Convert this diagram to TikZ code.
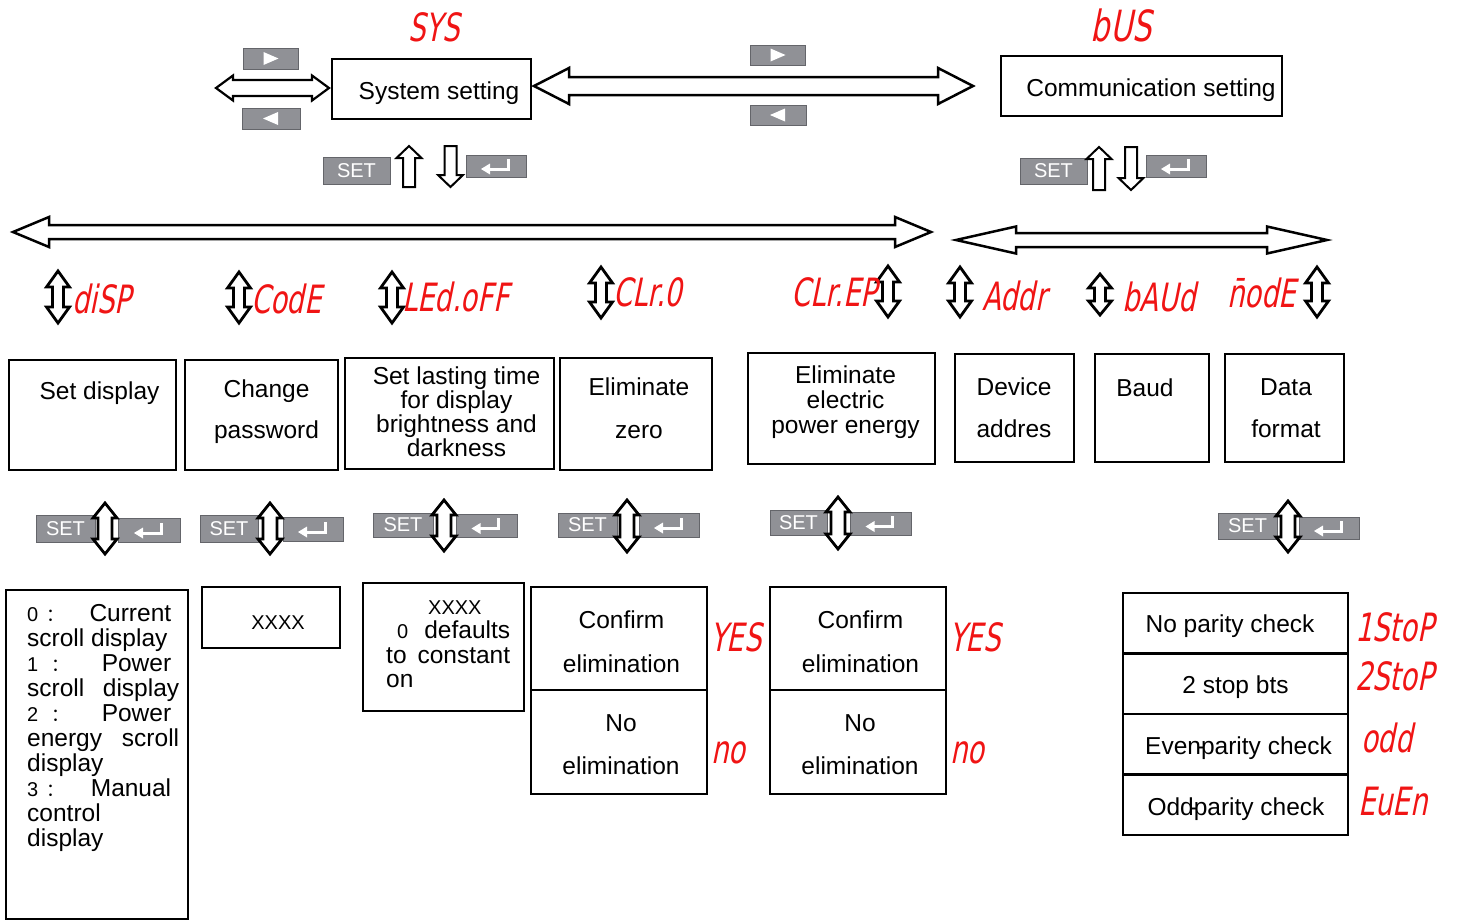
\documentclass[tikz,border=0pt]{standalone}
\usepackage{fontspec}
\setmainfont{Liberation Sans}
\newfontfamily\segfont[FakeSlant=0.2,FakeStretch=0.7]{DejaVu Sans}
\newfontfamily\cjkfont{Noto Sans CJK SC}
\usetikzlibrary{fit}
\definecolor{segred}{RGB}{240,20,20}
\definecolor{btngray}{RGB}{144,145,150}
\definecolor{btnedge}{RGB}{100,101,106}
\tikzset{
  blk/.style={draw=black, fill=white, line width=2.5pt, line join=miter},
  box/.style={draw=black, line width=2.5pt, inner sep=0pt},
  btn/.style={fill=btngray, draw=btnedge, line width=0.8pt, inner sep=0pt, text=white, font=\fontsize{20}{20}\selectfont},
  txt/.style={font=\fontsize{24.5}{25}\selectfont, inner sep=0pt, anchor=base},
  seg/.style={font=\segfont\fontsize{39}{39}\selectfont, text=segred, inner sep=0pt},
}
\newcommand\hdbl[7][]{\draw[blk,#1] (#2,#4) -- ({#2+#7},{#4-#6}) -- ({#2+#7},{#4-#5}) -- ({#3-#7},{#4-#5}) -- ({#3-#7},{#4-#6}) -- (#3,#4) -- ({#3-#7},{#4+#6}) -- ({#3-#7},{#4+#5}) -- ({#2+#7},{#4+#5}) -- ({#2+#7},{#4+#6}) -- cycle;}
\newcommand\vdbl[7][]{\draw[blk,#1] (#2,#3) -- ({#2+#6},{#3+#7}) -- ({#2+#5},{#3+#7}) -- ({#2+#5},{#4-#7}) -- ({#2+#6},{#4-#7}) -- (#2,#4) -- ({#2-#6},{#4-#7}) -- ({#2-#5},{#4-#7}) -- ({#2-#5},{#3+#7}) -- ({#2-#6},{#3+#7}) -- cycle;}
\newcommand\uparr[7][]{\draw[blk,#1] (#2,#3) -- ({#2+#6},{#3+#7}) -- ({#2+#5},{#3+#7}) -- ({#2+#5},#4) -- ({#2-#5},#4) -- ({#2-#5},{#3+#7}) -- ({#2-#6},{#3+#7}) -- cycle;}
\newcommand\dnarr[7][]{\draw[blk,#1] (#2,#4) -- ({#2+#6},{#4-#7}) -- ({#2+#5},{#4-#7}) -- ({#2+#5},#3) -- ({#2-#5},#3) -- ({#2-#5},{#4-#7}) -- ({#2-#6},{#4-#7}) -- cycle;}
\newcommand\btnat[6]{\node[btn, minimum width={#4-#2}, minimum height={#5-#3}] (#1) at ({(#2+#4)/2},{(#3+#5)/2}) {#6};}
\newcommand\rtri[1]{\fill[white] (#1) ++(-7,-6.5) -- ++(15,6.5) -- ++(-15,6.5) -- cycle;}
\newcommand\ltri[1]{\fill[white] (#1) ++(7,-6.5) -- ++(-15,6.5) -- ++(15,6.5) -- cycle;}
\newcommand\entersym[1]{\draw[white, line width=3pt, line cap=rect] (#1) ++(12,-6) -- ++(0,9) -- ++(-19,0); \fill[white] (#1) ++(-15,3) -- ++(9,-5.5) -- ++(0,11) -- cycle;}
\newcommand\smdig[1]{{\fontsize{20}{25}\selectfont #1}}
\newcommand\cjc{{\cjkfont\fontsize{18}{25}\selectfont ：}}
\begin{document}
\begin{tikzpicture}[x=1pt,y=-1pt]
\useasboundingbox (0,0) rectangle (1458,921);
\fill[white] (0,0) rectangle (1458,921);

% ---------- top level ----------
\node[seg] (lsys) at (434,27) {SYS};
\node[seg, font=\segfont\fontsize{43}{43}\selectfont] (lbus) at (1121,25) {bUS};
\node[box, fit={(332,59) (531,119)}] (sys) {};
\node[txt] (systxt) at (439,99) {System setting};
\node[box, fit={(1001,56) (1282,116)}] (comm) {};
\node[txt] (commtxt) at (1151,96) {Communication setting};

\hdbl[line width=2.2pt]{216}{329}{88}{8}{12.5}{17}
\hdbl{534}{973}{86}{9}{18}{35}
\btnat{rt1}{243}{48}{298}{69}{} \rtri{rt1.center}
\btnat{lt1}{242}{108}{300}{129}{} \ltri{lt1.center}
\btnat{rt2}{750}{45}{805}{65}{} \rtri{rt2.center}
\btnat{lt2}{750}{105}{806}{125}{} \ltri{lt2.center}

\btnat{set0}{323}{157}{390}{184}{SET}
\btnat{ent0}{466}{155}{526}{177}{} \entersym{ent0.center}
\uparr[line width=2pt]{409}{146}{187}{6}{12.5}{12}
\dnarr[line width=2pt]{450.5}{146}{187}{6}{12.5}{12}
\btnat{set1}{1020}{158}{1087}{184}{SET}
\btnat{ent1}{1146}{155}{1206}{177}{} \entersym{ent1.center}
\uparr[line width=2pt]{1099}{147}{190}{6}{12.5}{12}
\dnarr[line width=2pt]{1131}{147}{190}{6}{12.5}{12}

% ---------- second level ----------
\hdbl{13}{931}{232}{7}{15}{36}
\hdbl{956}{1327}{240}{7}{13.5}{60}

\vdbl[line width=2.8pt]{58}{271}{323}{5.5}{11.5}{16}
\node[seg, anchor=west] (ldisp) at (72,299) {diSP};
\vdbl[line width=2.8pt]{239}{272}{323}{5.5}{11.5}{16}
\node[seg, anchor=west] (lcode) at (251,299) {CodE};
\vdbl[line width=2.8pt]{392}{272}{323}{5.5}{11.5}{16}
\node[seg, anchor=west] (lled) at (402,297) {LEd.oFF};
\vdbl[line width=2.8pt]{601}{267}{318}{5.5}{11.5}{16}
\node[seg, anchor=west] (lclr0) at (613,292) {CLr.0};
\vdbl[line width=2.8pt]{888}{266}{317}{5.5}{11.5}{16}
\node[seg, anchor=east] (lclrep) at (877,292) {CLr.EP};
\vdbl[line width=2.8pt]{960}{267}{317}{5.5}{11.5}{16}
\node[seg, anchor=west] (laddr) at (982,296) {Addr};
\vdbl[line width=2.8pt]{1100}{274}{315}{5.5}{11.5}{14}
\node[seg, anchor=west] (lbaud) at (1122,297) {bAUd};
\vdbl[line width=2.8pt]{1317}{267}{317}{5.5}{11.5}{16}
\node[seg, anchor=east] (lmode) at (1296,293) {n̄odE};

\node[box, fit={(9,360) (176,470)}] (bdisp) {};
\node[txt] (tdisp) at (99.5,399) {Set display};
\node[box, fit={(185,360) (338,470)}] (bcode) {};
\node[txt, align=center, anchor=north, font=\fontsize{24.5}{41}\selectfont] (tcode) at (266.5,380) {Change\\password};
\node[box, fit={(345,358) (554,469)}] (bled) {};
\node[txt, align=center, anchor=north, font=\fontsize{24.5}{22}\selectfont] (tled) at (456.5,367) {Set lasting time\\for display\\brightness and\\darkness};
\node[box, fit={(560,358) (712,470)}] (bclr) {};
\node[txt, align=center, anchor=north, font=\fontsize{24.5}{43}\selectfont] (tclr) at (639,378) {Eliminate\\zero};
\node[box, fit={(748,353) (935,464)}] (bclrep) {};
\node[txt, align=center, anchor=north, font=\fontsize{24.5}{25}\selectfont] (tclrep) at (845.5,366) {Eliminate\\electric\\power energy};
\node[box, fit={(955,354) (1074,462)}] (baddr) {};
\node[txt, align=center, anchor=north, font=\fontsize{24.5}{42}\selectfont] (taddr) at (1014,378) {Device\\addres};
\node[box, fit={(1095,354) (1209,462)}] (bbaud) {};
\node[txt] (tbaud) at (1145,396) {Baud};
\node[box, fit={(1225,354) (1344,462)}] (bmode) {};
\node[txt, align=center, anchor=north, font=\fontsize{24.5}{42}\selectfont] (tmode) at (1286,378) {Data\\format};

% ---------- SET rows ----------
\btnat{s1}{36}{515}{95}{542}{SET}
\btnat{e1}{118}{518}{180}{542}{} \entersym{e1.center}
\vdbl[line width=2.8pt]{105}{503}{554}{7}{12}{15}
\btnat{s2}{200}{515}{258}{542}{SET}
\btnat{e2}{283}{517}{343}{541}{} \entersym{e2.center}
\vdbl[line width=2.8pt]{270}{503}{554}{7}{12}{15}
\btnat{s3}{373}{513}{433}{537}{SET}
\btnat{e3}{456}{514}{517}{537}{} \entersym{e3.center}
\vdbl[line width=2.8pt]{444}{500}{551}{7}{12}{15}
\btnat{s4}{558}{513}{617}{537}{SET}
\btnat{e4}{639}{513}{699}{537}{} \entersym{e4.center}
\vdbl[line width=2.8pt]{627}{500}{552}{7}{12}{15}
\btnat{s5}{770}{510}{827}{535}{SET}
\btnat{e5}{850}{512}{911}{535}{} \entersym{e5.center}
\vdbl[line width=2.8pt]{838}{497}{549}{7}{12}{15}
\btnat{s6}{1218}{513}{1277}{539}{SET}
\btnat{e6}{1299}{517}{1359}{539}{} \entersym{e6.center}
\vdbl[line width=2.8pt]{1288}{501}{552}{7}{12}{15}

% ---------- third level ----------
\node[box, fit={(6,590) (188,919)}] (bdlist) {};
\node[inner sep=0pt, anchor=north west, align=left, font=\fontsize{24.5}{25}\selectfont] (tdlist) at (27,604) {%
\makebox[144pt][l]{\smdig{0}\hspace{8pt}\cjc\hfill Current}\\
scroll display\\
\makebox[144pt][l]{\smdig{1}\hspace{13pt}\cjc\hfill Power}\\
\makebox[152pt][l]{scroll\hfill display}\\
\makebox[144pt][l]{\smdig{2}\hspace{13pt}\cjc\hfill Power}\\
\makebox[152pt][l]{energy\hfill scroll}\\
display\\
\makebox[144pt][l]{\smdig{3}\hspace{8pt}\cjc\hfill Manual}\\
control\\
display};

\node[box, fit={(202,587) (340,648)}] (bxxxx) {};
\node[txt, font=\fontsize{20}{20}\selectfont] (txxxx) at (278,629) {XXXX};

\node[box, fit={(363,583) (524,711)}] (bdef) {};
\node[inner sep=0pt, anchor=north west, align=left, font=\fontsize{24.5}{24.3}\selectfont] (tdef) at (386,600.7) {%
\makebox[124pt][l]{\hspace{42pt}{\fontsize{20}{24}\selectfont XXXX}}\\
\makebox[124pt][l]{\hspace{11pt}\smdig{0}\hspace{16pt}defaults}\\
\makebox[124pt][l]{to\hfill constant}\\
on};

\node[box, fit={(531,587) (707,690)}] (bc1) {};
\node[box, fit={(531,690) (707,794)}] (bn1) {};
\node[txt, align=center, anchor=north, font=\fontsize{24.5}{44}\selectfont] (tc1) at (621.5,610.5) {Confirm\\elimination};
\node[txt, align=center, anchor=north, font=\fontsize{24.5}{43}\selectfont] (tn1) at (621,714.5) {No\\elimination};
\node[seg, anchor=west] (yes1) at (710,637) {YES};
\node[seg, anchor=west] (no1) at (711,753) {no};

\node[box, fit={(770,587) (946,690)}] (bc2) {};
\node[box, fit={(770,690) (946,794)}] (bn2) {};
\node[txt, align=center, anchor=north, font=\fontsize{24.5}{44}\selectfont] (tc2) at (860.5,610.5) {Confirm\\elimination};
\node[txt, align=center, anchor=north, font=\fontsize{24.5}{43}\selectfont] (tn2) at (860,714.5) {No\\elimination};
\node[seg, anchor=west] (yes2) at (949,637) {YES};
\node[seg, anchor=west] (no2) at (950,753) {no};

\node[box, fit={(1123,593) (1348,653)}] (p1) {};
\node[box, fit={(1123,654) (1348,714)}] (p2) {};
\node[box, fit={(1123,714) (1348,774)}] (p3) {};
\node[box, fit={(1123,775) (1348,835)}] (p4) {};
\node[txt] (tp1) at (1230,632) {No parity check};
\node[txt] (tp2) at (1235.5,693) {2 stop bts};
\node[txt] (tp3) at (1238.5,754) {Even\makebox[0pt]{-}parity check};
\node[txt] (tp4) at (1236,815) {Odd\makebox[0pt]{-}parity check};
\node[seg, anchor=west] (l1stop) at (1355,627) {1StoP};
\node[seg, anchor=west] (l2stop) at (1355,676) {2StoP};
\node[seg, anchor=west] (lodd) at (1361,738) {odd};
\node[seg, anchor=west] (leven) at (1358,802) {EuEn};
\end{tikzpicture}
\end{document}
